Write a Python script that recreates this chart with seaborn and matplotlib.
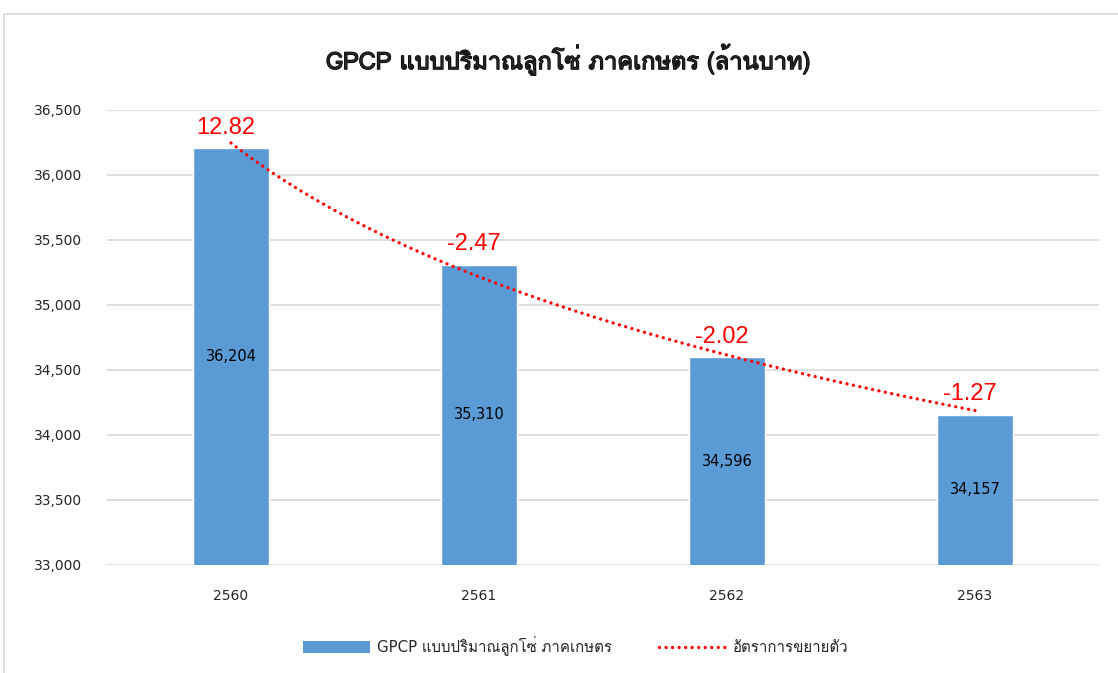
import numpy as np
import pandas as pd
import matplotlib
matplotlib.use("Agg")
import matplotlib.pyplot as plt
import seaborn as sns
from matplotlib import font_manager
from matplotlib.ft2font import FT2Font
from matplotlib.patches import Rectangle, Patch
from matplotlib.lines import Line2D
import matplotlib.patheffects as pe

# Données
years = ["2560", "2561", "2562", "2563"]
period = [1, 2, 3, 4]
gpcp = [36204, 35310, 34596, 34157]
growth = [12.82, -2.47, -2.02, -1.27]
yticks = [33000, 33500, 34000, 34500, 35000, 35500, 36000, 36500]

title = "GPCP แบบปริมาณลูกโซ่ ภาคเกษตร (ล้านบาท)"
bar_name = "GPCP แบบปริมาณลูกโซ่ ภาคเกษตร"
line_name = "อัตราการขยายตัว"

BAR_COLOR = "#5B9BD5"
RED = "#FF0000"
GRID = "#D9D9D9"
DOTS = (0, (0.01, 1.95))


def find_thai_fonts():
    """Renvoie (police thaï, police thaï couvrant aussi le latin)."""
    thai, full = [], []
    for f in font_manager.fontManager.ttflist:
        try:
            cmap = FT2Font(f.fname).get_charmap()
        except Exception:
            continue
        if 0x0E01 in cmap:
            thai.append(f.name)
            if ord("G") in cmap and ord("(") in cmap:
                full.append(f.name)
    first = thai[0] if thai else None
    return first, (full[0] if full else None)


def main():
    sns.set_style("white")
    thai, full = find_thai_fonts()
    fams = ["DejaVu Sans"]
    if thai:
        fams = ["DejaVu Sans", thai]
    plt.rcParams["font.family"] = fams

    df = pd.DataFrame({"period": period, "gpcp": gpcp, "year": years})

    fig = plt.figure(figsize=(11.18, 6.73), dpi=100)
    ax = fig.add_axes([0.0957, 0.1605, 0.8873, 0.6761])

    sns.barplot(data=df, x="period", y="gpcp", native_scale=True, width=0.31,
                color=BAR_COLOR, saturation=1, ax=ax, zorder=2)
    # Courbe de tendance logarithmique (comme la tendance Excel)
    sns.regplot(data=df, x="period", y="gpcp", logx=True, ci=None, scatter=False,
                ax=ax, line_kws=dict(color=RED, lw=2.4, ls=DOTS,
                                     dash_capstyle="round", zorder=3))

    ax.set_ylim(33000, 36500)
    ax.set_xlim(0.5, 4.5)
    ax.set_yticks(yticks)
    ax.set_yticklabels([f"{v:,}" for v in yticks], fontsize=10)
    ax.set_xticks(period)
    ax.set_xticklabels(years, fontsize=10)
    ax.tick_params(axis="x", length=0, pad=17)
    ax.tick_params(axis="y", length=0, pad=18)
    ax.set_xlabel("")
    ax.set_ylabel("")
    ax.grid(axis="y", color=GRID, lw=1.2, zorder=0)
    ax.set_axisbelow(True)
    sns.despine(ax=ax, left=True, bottom=True)

    # Étiquettes des barres
    ax.bar_label(ax.containers[0], labels=[f"{v:,}" for v in gpcp],
                 label_type="center", fontsize=10.5, color="black")

    # Taux de croissance en rouge
    for p, v, g in zip(period, gpcp, growth):
        ax.annotate(f"{g:.2f}", (p, v), xytext=(-4, 7), textcoords="offset points",
                    ha="center", va="bottom", fontsize=17, color=RED,
                    family=["Liberation Sans", "DejaVu Sans"], zorder=4)

    # Titre : gras simulé si une seule police couvre tout le texte
    if full:
        fig.suptitle(title, x=0.508, y=0.933, fontsize=17, family=[full],
                     path_effects=[pe.withStroke(linewidth=1.0, foreground="black")])
    else:
        fig.suptitle(title, x=0.508, y=0.933, fontsize=17, fontweight="bold")

    handles = [Patch(facecolor=BAR_COLOR, edgecolor="none"),
               Line2D([], [], color=RED, lw=2.4, ls=DOTS, dash_capstyle="round")]
    fig.legend(handles, [bar_name, line_name], loc="center", bbox_to_anchor=(0.515, 0.04),
               ncol=2, frameon=False, fontsize=10.8, handlelength=4.45, handleheight=0.9,
               columnspacing=3.1, handletextpad=0.5)

    # Cadre extérieur du graphique
    fig.add_artist(Rectangle((4 / 1118, -0.05), 1.05, 1 - 14 / 673 + 0.05,
                             transform=fig.transFigure, fill=False,
                             edgecolor=GRID, lw=1.2))

    fig.savefig("out.png", dpi=100)
    plt.close(fig)


if __name__ == "__main__":
    main()
